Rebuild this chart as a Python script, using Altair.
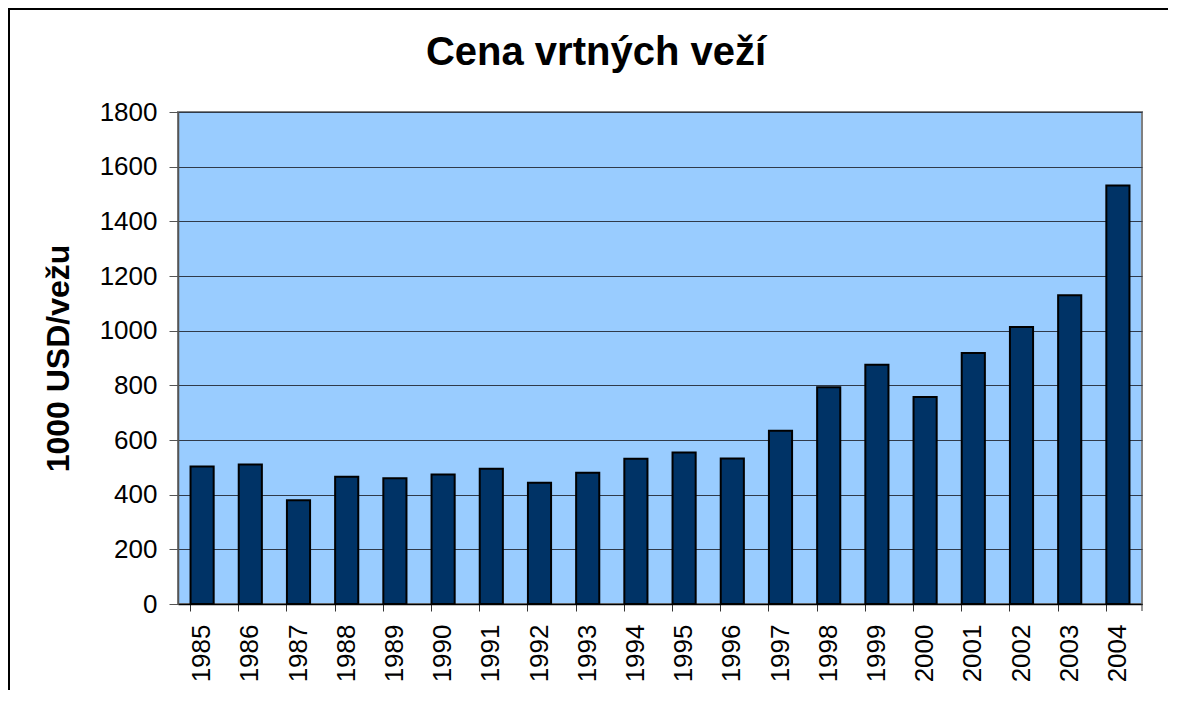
import altair as alt
import pandas as pd

years = ["1985", "1986", "1987", "1988", "1989", "1990", "1991", "1992", "1993", "1994",
         "1995", "1996", "1997", "1998", "1999", "2000", "2001", "2002", "2003", "2004"]
prices = [503, 510, 380, 466, 460, 474, 495, 444, 480, 531,
          554, 532, 634, 793, 875, 757, 918, 1013, 1130, 1531]
y_ticks = [0, 200, 400, 600, 800, 1000, 1200, 1400, 1600, 1800]

title_text = "Cena vrtných veží"
y_title = "1000 USD/vežu"

FONT = "Liberation Sans"
W, H = 964, 492
PAD_L, PAD_T, PAD_R, PAD_B = 170, 104, 27, 86

df = pd.DataFrame({"year": years, "price": prices})
one = pd.DataFrame({"a": [0]})

# chart-area border (top and left edges; the rest lies outside the window)
frame_top = alt.Chart(one).mark_rule(color="black", strokeWidth=2).encode(
    x=alt.value(-PAD_L), x2=alt.value(W + PAD_R - 1), y=alt.value(-PAD_T + 1)
)
frame_left = alt.Chart(one).mark_rule(color="black", strokeWidth=2).encode(
    x=alt.value(-PAD_L + 1), y=alt.value(-PAD_T), y2=alt.value(H + PAD_B)
)

bars = alt.Chart(df).mark_bar(
    color="#003366", stroke="black", strokeWidth=2
).encode(
    x=alt.X(
        "year:O",
        sort=years,
        title=None,
        scale=alt.Scale(paddingInner=0.52, paddingOuter=0.26),
        axis=alt.Axis(
            labelAngle=270,
            bandPosition=0,
            tickSize=7,
            tickColor="#333333",
            domainColor="#000000",
            domainWidth=1.5,
            labelPadding=13,
            labelFont=FONT,
            labelFontSize=26,
            labelColor="black",
            grid=False,
        ),
    ),
    y=alt.Y(
        "price:Q",
        scale=alt.Scale(domain=[0, 1800], nice=False),
        axis=alt.Axis(
            values=y_ticks,
            format="d",
            grid=True,
            gridColor="#2f3a4a",
            gridWidth=1,
            tickSize=9,
            tickColor="#555555",
            domainColor="#555555",
            domainWidth=1.5,
            labelPadding=12,
            labelFont=FONT,
            labelFontSize=26,
            labelColor="black",
            title=y_title,
            titleFont=FONT,
            titleFontSize=32,
            titleFontWeight="bold",
            titleColor="black",
            titleAngle=270,
            titleAlign="center",
            titleBaseline="alphabetic",
            titleX=-110,
            titleY=246,
        ),
    ),
)

end_tick = alt.Chart(one).mark_rule(color="#333333", strokeWidth=1).encode(
    x=alt.value(W), y=alt.value(H), y2=alt.value(H + 7)
)

title = alt.Chart(one).mark_text(
    text=title_text, font=FONT, fontSize=40, fontWeight="bold",
    align="center", baseline="alphabetic", color="black"
).encode(x=alt.value(418), y=alt.value(-47))

chart = alt.layer(frame_top, frame_left, bars, end_tick, title).properties(
    width=W, height=H,
    background="white",
    autosize=alt.AutoSizeParams(type="none"),
    padding={"left": PAD_L, "top": PAD_T, "right": PAD_R, "bottom": PAD_B},
).configure_view(
    fill="#99CCFF", stroke="#808080", strokeWidth=2
)

chart.save("out.html", embed_options={"renderer": "svg", "actions": False})
